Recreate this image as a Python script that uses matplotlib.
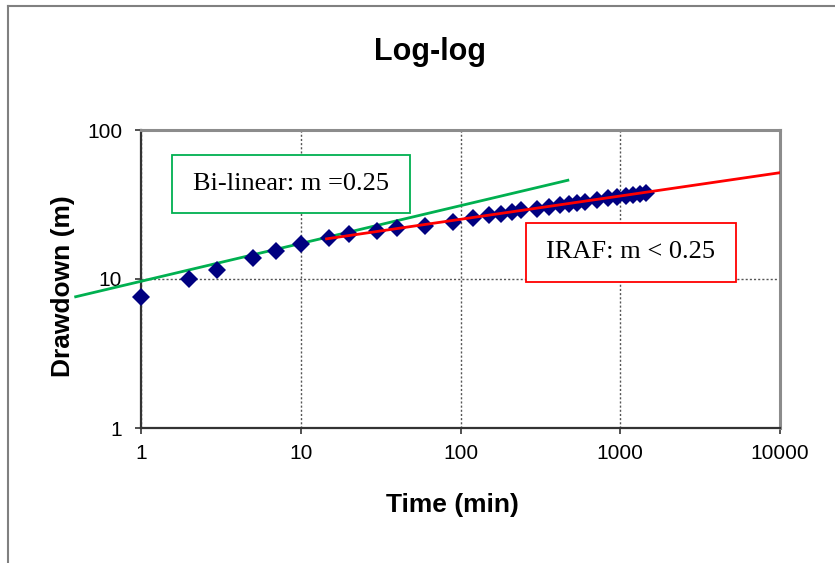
import numpy as np
import matplotlib
matplotlib.use("Agg")
import matplotlib.pyplot as plt
from matplotlib.lines import Line2D
from matplotlib.patches import Rectangle

# pumping test: elapsed time (min) and drawdown (m)
time_min = [1, 2, 3, 5, 7, 10, 15, 20, 30, 40, 60, 90, 120, 150, 180, 210, 240,
            300, 360, 420, 480, 540, 600, 720, 840, 960, 1080, 1200, 1320, 1440]
drawdown = [7.6, 9.95, 11.5, 13.9, 15.4, 17.2, 18.8, 20.0, 21.1, 22.1, 22.8,
            24.3, 25.6, 26.7, 27.4, 28.2, 28.9, 29.7, 30.5, 31.4, 32.0, 32.5,
            33.0, 34.0, 34.8, 35.5, 36.1, 36.6, 37.2, 37.7]

# fitted straight lines (end points, log-log)
bilinear_t = [0.39, 470]
bilinear_s = [7.6, 46.0]
iraf_t = [14.5, 10000]
iraf_s = [18.6, 51.7]

bilinear_label = "Bi-linear: m =0.25"
iraf_label = "IRAF: m < 0.25"

GREEN = '#00B050'
RED = '#FF0000'

fig = plt.figure(figsize=(8.35, 5.63), dpi=100)
ax = fig.add_axes([141 / 835, 1 - 428 / 563, 639 / 835, 298 / 563])

ax.plot(bilinear_t, bilinear_s, color=GREEN, lw=2, clip_on=False, zorder=3)
ax.plot(time_min, drawdown, linestyle='none', marker='D', markersize=9.5,
        color='#000080', markeredgewidth=0, zorder=4, clip_on=False)
ax.plot(iraf_t, iraf_s, color=RED, lw=2, zorder=5)

ax.set_xscale('log')
ax.set_yscale('log')
ax.set_xlim(1, 10000)
ax.set_ylim(1, 100)
ax.set_xticks([1, 10, 100, 1000, 10000])
ax.set_xticklabels(['1', '10', '100', '1000', '10000'])
ax.set_yticks([1, 10, 100])
ax.set_yticklabels(['1', '10', '100'])
ax.minorticks_off()

ax.grid(True, which='major', linestyle=(0, (1.5, 1.5)), color='#555555', lw=1)
ax.set_axisbelow(True)

for side in ['left', 'bottom']:
    ax.spines[side].set_color('#333333')
    ax.spines[side].set_linewidth(1.6)
for side in ['top', 'right']:
    ax.spines[side].set_color('#8c8c8c')
    ax.spines[side].set_linewidth(2.2)

ax.tick_params(axis='both', direction='out', length=4.5, width=1.2,
               color='#333333', labelsize=15)
ax.tick_params(axis='x', pad=7)
ax.tick_params(axis='y', pad=9)
for lab in ax.get_xticklabels() + ax.get_yticklabels():
    lab.set_fontfamily('Liberation Sans')

ax.set_xlabel('Time (min)', fontsize=19, fontweight='bold', family='Liberation Sans')
ax.set_ylabel('Drawdown (m)', fontsize=19, fontweight='bold', family='Liberation Sans')
ax.xaxis.set_label_coords(0.487, -0.218)
ax.yaxis.set_label_coords(-0.104, 0.475)

fig.text(430 / 835, 1 - 60 / 563, 'Log-log', ha='center', va='baseline',
         fontsize=22, fontweight='bold', family='Liberation Sans')

# annotation boxes
boxes = [((0.0485, 0.7215), 0.3725, 0.1945, GREEN, bilinear_label),
         ((0.6025, 0.49), 0.3285, 0.198, RED, iraf_label)]
for (x0, y0), w, h, col, txt in boxes:
    ax.add_patch(Rectangle((x0, y0), w, h, transform=ax.transAxes,
                           facecolor='white', edgecolor=col, lw=1.3, zorder=6))
    ax.text(x0 + w / 2, y0 + h / 2, txt, transform=ax.transAxes,
            ha='center', va='center', fontsize=19, family='Liberation Serif',
            zorder=7)

# chart area frame
fig.add_artist(Line2D([7.5 / 835, 7.5 / 835], [0, 1 - 6 / 563],
                      transform=fig.transFigure, color='#808080', lw=1.5))
fig.add_artist(Line2D([7.5 / 835, 1], [1 - 6 / 563, 1 - 6 / 563],
                      transform=fig.transFigure, color='#808080', lw=1.5))

fig.savefig('out.png', dpi=100)
